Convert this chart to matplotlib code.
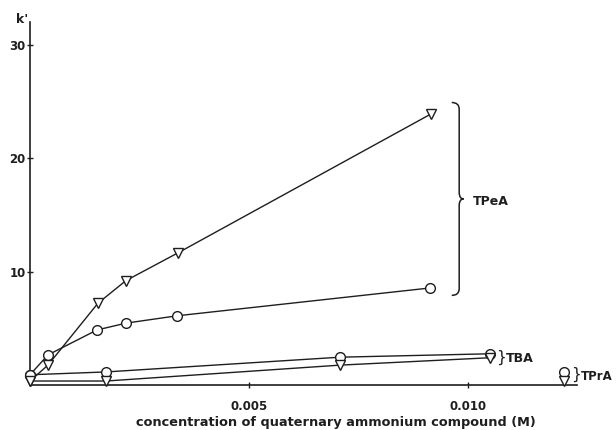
import numpy as np
import matplotlib
matplotlib.use("Agg")
import matplotlib.pyplot as plt
from matplotlib.path import Path
from matplotlib.patches import PathPatch

# concentration (M) and k'
tpea_tri_x = [0.0, 0.00041, 0.00155, 0.00219, 0.00338, 0.00916]
tpea_tri_y = [0.35, 1.75, 7.2, 9.2, 11.65, 23.9]
tpea_cir_x = [0.0, 0.00041, 0.00153, 0.00219, 0.00336, 0.00913]
tpea_cir_y = [0.9, 2.65, 4.85, 5.45, 6.1, 8.55]

tba_cir_x = [0.0, 0.00174, 0.00708, 0.01050]
tba_cir_y = [0.9, 1.15, 2.45, 2.75]
tba_tri_x = [0.0, 0.00174, 0.00708, 0.01050]
tba_tri_y = [0.35, 0.35, 1.75, 2.4]

tpra_cir_x = [0.01219]
tpra_cir_y = [1.15]
tpra_tri_x = [0.01219]
tpra_tri_y = [0.35]

yticks = [10, 20, 30]
xticks = [0.005, 0.010]
xtick_labels = ["0.005", "0.010"]

FONT = "DejaVu Sans"
INK = "#1e1e1e"


def brace(ax, x0, x1, tip, y0, y1):
    # right-facing curly brace: ends at x0, spine at x1, point at tip
    ym = (y0 + y1) / 2
    h = (y1 - y0) * 0.035
    verts = [
        (x0, y1), (x1, y1), (x1, y1 - h),
        (x1, ym + h),
        (x1, ym), (tip, ym),
        (x1, ym), (x1, ym - h),
        (x1, y0 + h),
        (x1, y0), (x0, y0),
    ]
    codes = [Path.MOVETO, Path.CURVE3, Path.CURVE3,
             Path.LINETO,
             Path.CURVE3, Path.CURVE3,
             Path.CURVE3, Path.CURVE3,
             Path.LINETO,
             Path.CURVE3, Path.CURVE3]
    ax.add_patch(PathPatch(Path(verts, codes), fill=False, lw=1.1,
                           color=INK, clip_on=False))


fig = plt.figure(figsize=(6.16, 4.30), dpi=100)
ax = fig.add_axes([0.0487, 0.1047, 0.888, 0.8442])

line_kw = dict(color=INK, lw=1.0, mfc="white", mec=INK,
               mew=1.0, clip_on=False, zorder=3)

ax.plot(tpea_tri_x, tpea_tri_y, marker="v", ms=7.5, **line_kw)
ax.plot(tpea_cir_x, tpea_cir_y, marker="o", ms=7, **line_kw)
ax.plot(tba_cir_x, tba_cir_y, marker="o", ms=7, **line_kw)
ax.plot(tba_tri_x, tba_tri_y, marker="v", ms=7.5, **line_kw)
ax.plot(tpra_cir_x, tpra_cir_y, marker="o", ms=7, ls="none", **line_kw)
ax.plot(tpra_tri_x, tpra_tri_y, marker="v", ms=7.5, ls="none", **line_kw)

ax.set_xlim(0, 0.01249)
ax.set_ylim(0, 32.0)

for s in ("top", "right"):
    ax.spines[s].set_visible(False)
for s in ("left", "bottom"):
    ax.spines[s].set_linewidth(1.2)
    ax.spines[s].set_color(INK)

ax.set_yticks(yticks)
ax.set_yticklabels([str(t) for t in yticks], fontfamily=FONT,
                   fontweight="bold", fontsize=8.5, color=INK)
ax.set_xticks(xticks)
ax.set_xticklabels(xtick_labels, fontfamily=FONT, fontweight="bold",
                   fontsize=8.5, color=INK)
ax.tick_params(direction="inout", length=5, width=1.0, color=INK)
ax.tick_params(axis="y", pad=0.5)
ax.tick_params(axis="x", pad=8.5)

ax.set_xlabel("concentration of quaternary ammonium compound (M)",
              fontfamily=FONT, fontweight="bold", fontsize=9.3,
              color=INK)
ax.xaxis.set_label_coords(0.56, -0.085)

ax.text(-0.0146, 1.008, "k'", transform=ax.transAxes, ha="center",
        va="center", fontfamily=FONT, fontweight="bold", fontsize=9,
        color=INK)

# group braces and labels
brace(ax, 0.00963, 0.00980, 0.00990, 7.9, 24.9)
ax.text(0.01011, 16.15, "TPeA", ha="left", va="center", fontfamily=FONT,
        fontweight="bold", fontsize=9, color=INK)
ax.text(0.01064, 2.45, "}", ha="left", va="center", fontfamily=FONT,
        fontsize=11, color=INK)
ax.text(0.01087, 2.3, "TBA", ha="left", va="center", fontfamily=FONT,
        fontweight="bold", fontsize=9, color=INK)
ax.text(0.01236, 0.9, "}", ha="left", va="center", fontfamily=FONT,
        fontsize=11, color=INK)
ax.text(0.01257, 0.75, "TPrA", ha="left", va="center", fontfamily=FONT,
        fontweight="bold", fontsize=8.5, color=INK)

fig.savefig("out.png", dpi=100)
